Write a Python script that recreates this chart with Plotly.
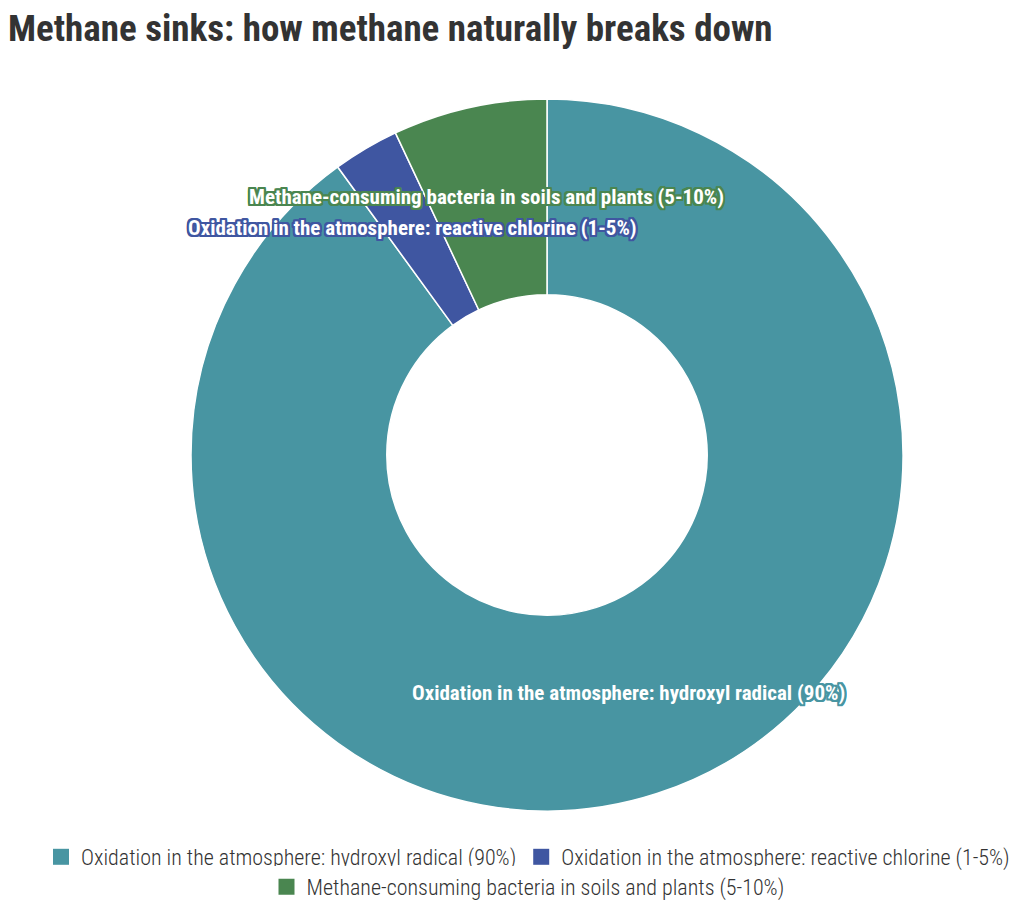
import plotly.graph_objects as go

W, H = 1024, 917
OFF = 8  # page body margin

labels = [
    "Oxidation in the atmosphere: hydroxyl radical (90%)",
    "Oxidation in the atmosphere: reactive chlorine (1-5%)",
    "Methane-consuming bacteria in soils and plants (5-10%)",
]
values = [90, 3, 7]
colors = ["#4895a2", "#3f56a1", "#4a8650"]

FONT = "Roboto Condensed, Liberation Sans Narrow, DejaVu Sans Condensed, sans-serif"


def px_x(x):
    return (x - OFF) / W


def px_y(y):
    return 1 - (y - OFF) / H


fig = go.Figure(go.Pie(
    labels=labels,
    values=values,
    hole=0.45,
    sort=False,
    direction="clockwise",
    rotation=0,
    marker=dict(colors=colors, line=dict(color="white", width=1.5)),
    textinfo="none",
    showlegend=False,
    domain=dict(x=[px_x(191), px_x(903)], y=[px_y(811), px_y(99)]),
))

# legend entries: two rows, each centred
for i, (name, col) in enumerate(zip(labels, colors)):
    fig.add_trace(go.Scatter(
        x=[None], y=[None], mode="markers", name=name,
        marker=dict(symbol="square", size=16, color=col),
        legend="legend" if i < 2 else "legend2",
    ))


def outline(c):
    return ", ".join(f"{dx}px {dy}px 0 {c}" for dx in (-2, -1, 0, 1, 2) for dy in (-2, -1, 0, 1, 2))


# slice labels, white text with coloured outline
label_pos = [(628, 693), (412, 228), (486, 197)]
for text, col, (x, y) in zip(labels, colors, label_pos):
    fig.add_annotation(
        x=px_x(x), y=px_y(y), xref="paper", yref="paper",
        xanchor="center", yanchor="middle",
        text="<b>" + text + "</b>", showarrow=False,
        font=dict(family=FONT, size=21, color="white", shadow=outline(col)),
    )

fig.add_annotation(
    x=px_x(6), y=px_y(28), xref="paper", yref="paper", xanchor="left", yanchor="middle",
    text="<b>Methane sinks: how methane naturally breaks down</b>", showarrow=False,
    font=dict(family=FONT, size=37, color="#333333"),
)

leg = dict(orientation="h", x=px_x(528), xanchor="center", yanchor="middle",
           font=dict(size=22, weight=300), itemwidth=30, tracegroupgap=0, itemsizing="trace")
fig.update_layout(
    width=W, height=H,
    margin=dict(l=0, r=0, t=0, b=0),
    paper_bgcolor="white",
    plot_bgcolor="white",
    xaxis=dict(visible=False),
    yaxis=dict(visible=False),
    font=dict(family=FONT, size=17, color="#333333"),
    legend=dict(leg, y=px_y(857)),
    legend2=dict(leg, y=px_y(887)),
)

fig.write_html("out.html")
